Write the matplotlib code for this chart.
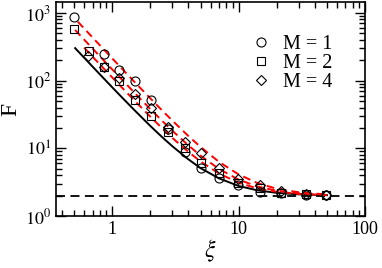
import math
import matplotlib
matplotlib.use("Agg")
import matplotlib.pyplot as plt
from matplotlib.ticker import LogLocator, FixedLocator, NullFormatter, FuncFormatter

plt.rcParams['font.family'] = ['Liberation Serif', 'DejaVu Serif']
plt.rcParams['mathtext.fontset'] = 'stix'

# simulation points
xi_m1 = [0.5, 0.855, 1.14, 1.52, 2.03, 2.76, 3.76, 5.08, 7.0, 9.9, 14.9, 21.7, 34.3, 49]
F_m1 = [861, 245, 144, 99, 52, 19, 8.9, 5.1, 3.6, 2.87, 2.29, 2.2, 2.05, 2.02]

xi_m2 = [0.5, 0.66, 0.855, 1.14, 1.52, 2.03, 2.76, 3.76, 5.08, 7.0, 9.9, 14.9, 21.7, 34.3, 49]
F_m2 = [577, 275, 160, 98, 52, 30, 17.6, 10, 6.1, 4.3, 3.1, 2.6, 2.2, 2.1, 2.04]

xi_m4 = [0.65, 0.855, 1.14, 1.52, 2.03, 2.76, 3.76, 5.08, 7.0, 9.9, 14.9, 21.7, 34.3, 49]
F_m4 = [230, 160, 110, 63, 39, 20.6, 12.5, 8.5, 5.1, 3.5, 2.87, 2.37, 2.1, 2.04]

# curves
xi_curve = [0.6, 0.7, 0.85, 1, 1.2, 1.5, 2, 2.5, 3, 4, 5, 7, 10, 14, 20, 30, 50]
F_black = [218.7, 161.2, 110, 80, 56.2, 36.7, 21.5, 14.5, 10.7, 6.9, 5.1, 3.6, 2.78, 2.40, 2.2, 2.09, 2.03]
F_red1 = [591, 435, 295, 214, 149, 96, 55, 35.9, 25.6, 15.25, 10.5, 6.3, 4.12, 3.08, 2.53, 2.24, 2.08]
F_red2 = [405, 298, 203, 147, 103, 66.4, 38.2, 25.2, 18.1, 11.1, 7.8, 4.96, 3.45, 2.74, 2.36, 2.16, 2.06]
F_red3 = [307, 226, 154, 112, 78.4, 50.9, 29.5, 19.6, 14.2, 8.9, 6.4, 4.24, 3.1, 2.56, 2.28, 2.12, 2.04]
black_start = (0.51, 302)
red1_start = (0.536, 741)
red2_start = (0.51, 560)
F_limit = 2.0

fig = plt.figure(figsize=(3.82, 2.68), dpi=100)
ax = fig.add_axes([0.1466, 0.194, 0.809, 0.7985])

ax.axhline(F_limit, color='black', ls=(0, (5, 3)), lw=1.3)
ax.plot([black_start[0]] + xi_curve, [black_start[1]] + F_black, color='black', lw=1.4)
ax.plot([red1_start[0]] + xi_curve, [red1_start[1]] + F_red1, color='red', ls=(0, (4, 2.5)), lw=1.4)
ax.plot([red2_start[0]] + xi_curve, [red2_start[1]] + F_red2, color='red', ls=(0, (4, 2.5)), lw=1.4)
ax.plot(xi_curve, F_red3, color='red', ls=(0, (4, 2.5)), lw=1.4)

mk = dict(ls='none', mfc='none', mec='black', mew=0.8)
ax.plot(xi_m1, F_m1, marker='o', ms=6.5, label='M = 1', **mk)
ax.plot(xi_m2, F_m2, marker='s', ms=6, label='M = 2', **mk)
ax.plot(xi_m4, F_m4, marker='D', ms=5, label='M = 4', **mk)

ax.set_xscale('log')
ax.set_yscale('log')
ax.set_xlim(0.36, 100)
ax.set_ylim(1, 1450)

ax.xaxis.set_major_locator(FixedLocator([1, 10, 100]))
ax.xaxis.set_major_formatter(FuncFormatter(lambda v, p: '%g' % v))
ax.xaxis.set_minor_locator(LogLocator(base=10, subs=range(2, 10)))
ax.xaxis.set_minor_formatter(NullFormatter())
ax.yaxis.set_major_locator(FixedLocator([1, 10, 100, 1000]))
ax.yaxis.set_major_formatter(FuncFormatter(lambda v, p: r'$10^{%d}$' % round(math.log10(v))))
ax.yaxis.set_minor_locator(LogLocator(base=10, subs=range(2, 10)))
ax.yaxis.set_minor_formatter(NullFormatter())

ax.tick_params(which='both', direction='in', top=True, right=True, labelsize=13, width=1)
ax.tick_params(which='major', length=7)
ax.tick_params(which='minor', length=4)
for s in ax.spines.values():
    s.set_linewidth(1.2)

ax.set_xlabel(r'$\xi$', fontsize=17, labelpad=0)
fig.text(0.028, 0.59, 'F', rotation=90, fontsize=17, ha='center', va='center')

ax.legend(loc='upper right', frameon=False, fontsize=14.5, handletextpad=0.3,
          labelspacing=0.0, handlelength=1.6, borderaxespad=0.6,
          bbox_to_anchor=(0.96, 0.94))

fig.savefig('out.png', dpi=100)
